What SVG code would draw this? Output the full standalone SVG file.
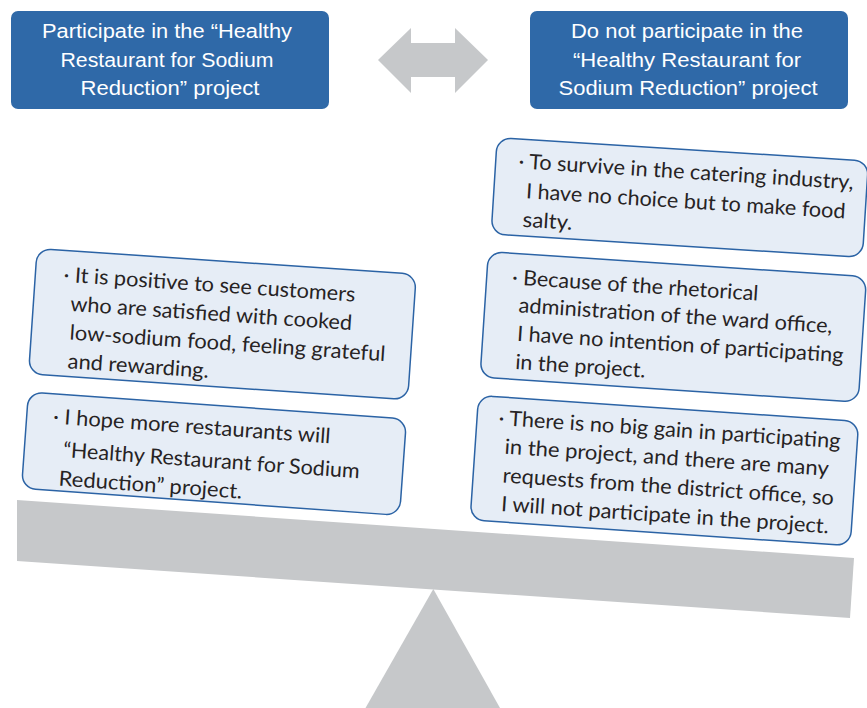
<svg xmlns="http://www.w3.org/2000/svg" width="867" height="708" viewBox="0 0 867 708">
  <style>
    .hdr rect { fill: #2f69a8; }
    .hdr text { font-family: "Liberation Sans Narrow", "Liberation Sans", Arial, sans-serif; font-size: 20px; fill: #ffffff; text-anchor: middle; }
    .card rect { fill: #e6edf6; stroke: #2b63a5; stroke-width: 1.5; }
    .card text { font-family: Lato, "Noto Sans", sans-serif; font-size: 21px; fill: #262324; }
    .gray { fill: #c6c8ca; }
  </style>

  <!-- balance: beam and fulcrum -->
  <g id="scale">
    <polygon class="gray" points="365.5,708 433.3,589 500,708"/>
    <polygon class="gray" points="17,500 854,558 850,618 17,561"/>
  </g>

  <!-- headers -->
  <g id="participate" class="hdr">
    <rect x="11" y="11" width="318" height="98" rx="7"/>
    <text x="167" y="38" textLength="250" lengthAdjust="spacingAndGlyphs">Participate in the “Healthy</text>
    <text x="167" y="66.5" textLength="213" lengthAdjust="spacingAndGlyphs">Restaurant for Sodium</text>
    <text x="170" y="95" textLength="179" lengthAdjust="spacingAndGlyphs">Reduction” project</text>
  </g>
  <g id="not-participate" class="hdr">
    <rect x="530" y="11" width="318" height="98" rx="7"/>
    <text x="687" y="38" textLength="232" lengthAdjust="spacingAndGlyphs">Do not participate in the</text>
    <text x="687" y="66.5" textLength="228" lengthAdjust="spacingAndGlyphs">“Healthy Restaurant for</text>
    <text x="688" y="95" textLength="259" lengthAdjust="spacingAndGlyphs">Sodium Reduction” project</text>
  </g>

  <!-- double-headed arrow between the two positions -->
  <g id="connectors">
    <polygon class="gray" points="378,60 411,28 411,43 455,43 455,28 488,60 455,93 455,77 411,77 411,93"/>
  </g>

  <!-- reasons for participating -->
  <g id="reason-positive" class="card" transform="translate(222.4 324.1) rotate(3.9)">
    <rect x="-190" y="-62.85" width="380" height="125.7" rx="14"/>
    <text x="-161.6" y="-31.5" textLength="292.3" lengthAdjust="spacingAndGlyphs">· It is positive to see customers</text>
    <text x="-153" y="-2.8" textLength="282.3" lengthAdjust="spacingAndGlyphs">who are satisfied with cooked</text>
    <text x="-151.7" y="25.9" textLength="316.4" lengthAdjust="spacingAndGlyphs">low-sodium food, feeling grateful</text>
    <text x="-151.7" y="54.6" textLength="141.3" lengthAdjust="spacingAndGlyphs">and rewarding.</text>
  </g>
  <g id="reason-hope" class="card" transform="translate(214 453.7) rotate(4.1)">
    <rect x="-189.5" y="-48.25" width="379" height="96.5" rx="14"/>
    <text x="-163" y="-18.6" textLength="278" lengthAdjust="spacingAndGlyphs">· I hope more restaurants will</text>
    <text x="-150.7" y="14.1" textLength="297.3" lengthAdjust="spacingAndGlyphs">“Healthy Restaurant for Sodium</text>
    <text x="-153" y="42.8" textLength="183.8" lengthAdjust="spacingAndGlyphs">Reduction” project.</text>
  </g>

  <!-- reasons for not participating -->
  <g id="reason-survive" class="card" transform="translate(679.8 197.5) rotate(3.6)">
    <rect x="-186" y="-48.25" width="372" height="96.5" rx="14"/>
    <text x="-163" y="-19" textLength="335.4" lengthAdjust="spacingAndGlyphs">· To survive in the catering industry,</text>
    <text x="-153.8" y="10.5" textLength="320" lengthAdjust="spacingAndGlyphs">I have no choice but to make food</text>
    <text x="-155.3" y="39" textLength="49.8" lengthAdjust="spacingAndGlyphs">salty.</text>
  </g>
  <g id="reason-administration" class="card" transform="translate(673.3 326.9) rotate(3.8)">
    <rect x="-189.5" y="-62.85" width="379" height="125.7" rx="14"/>
    <text x="-164.1" y="-31.8" textLength="246.8" lengthAdjust="spacingAndGlyphs">· Because of the rhetorical</text>
    <text x="-155.6" y="-4.3" textLength="314.4" lengthAdjust="spacingAndGlyphs">administration of the ward office,</text>
    <text x="-155.3" y="24.2" textLength="327" lengthAdjust="spacingAndGlyphs">I have no intention of participating</text>
    <text x="-155.2" y="52.5" textLength="130.3" lengthAdjust="spacingAndGlyphs">in the project.</text>
  </g>
  <g id="reason-no-gain" class="card" transform="translate(664.4 470.6) rotate(3.9)">
    <rect x="-190.5" y="-62.35" width="381" height="124.7" rx="14"/>
    <text x="-168.8" y="-34.2" textLength="342.5" lengthAdjust="spacingAndGlyphs">· There is no big gain in participating</text>
    <text x="-160.9" y="-6" textLength="324.7" lengthAdjust="spacingAndGlyphs">in the project, and there are many</text>
    <text x="-160.9" y="22.8" textLength="331.8" lengthAdjust="spacingAndGlyphs">requests from the district office, so</text>
    <text x="-160.6" y="51.4" textLength="328.4" lengthAdjust="spacingAndGlyphs">I will not participate in the project.</text>
  </g>
</svg>
